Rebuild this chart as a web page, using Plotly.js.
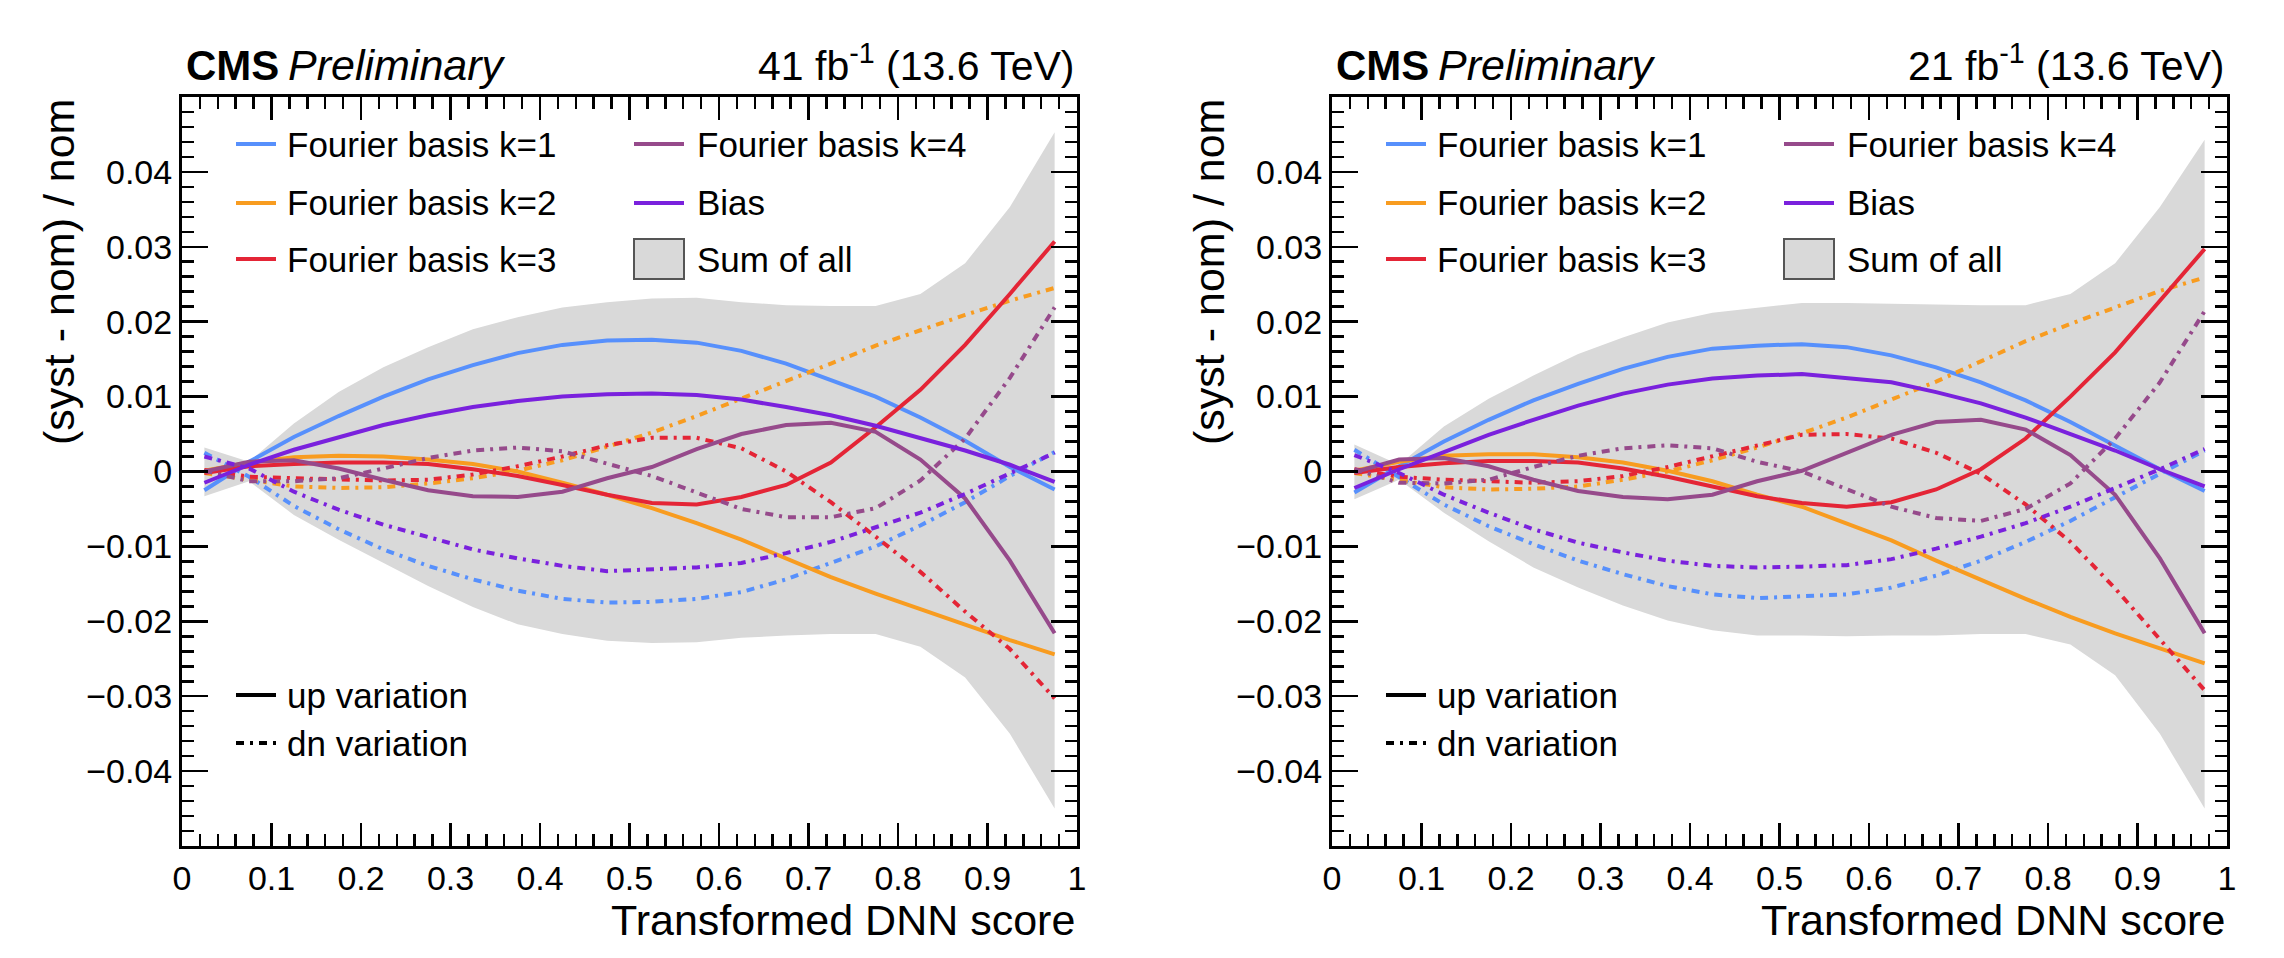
<!DOCTYPE html>
<html>
<head>
<meta charset="utf-8">
<script src="https://cdn.plot.ly/plotly-3.0.1.min.js"></script>
<style>
  html, body { margin: 0; padding: 0; background: #fff; }
  #plot { width: 2284px; height: 958px; }
</style>
</head>
<body>
<div id="plot"></div>
<script>
// bin centres of the transformed DNN score
var centers = [0.025, 0.075, 0.125, 0.175, 0.225, 0.275, 0.325, 0.375, 0.425, 0.475,
               0.525, 0.575, 0.625, 0.675, 0.725, 0.775, 0.825, 0.875, 0.925, 0.975];

// ---- left panel, 41 fb-1 ----
var k1Up_L = [-0.0025, 0.0013, 0.0046, 0.0074, 0.0100, 0.0123, 0.0142, 0.0158, 0.0169, 0.0175,
              0.0176, 0.0172, 0.0161, 0.0144, 0.0122, 0.0100, 0.0072, 0.0041, 0.0006, -0.0024];
var k1Dn_L = [0.0025, -0.0007, -0.0046, -0.0077, -0.0104, -0.0126, -0.0144, -0.0159, -0.0170, -0.0175,
              -0.0174, -0.0170, -0.0161, -0.0144, -0.0122, -0.0100, -0.0072, -0.0041, -0.0006, 0.0026];
var k2Up_L = [0.0001, 0.0012, 0.0019, 0.0021, 0.0020, 0.0016, 0.0010, 0.0000, -0.0015, -0.0031,
              -0.0049, -0.0069, -0.0091, -0.0116, -0.0141, -0.0163, -0.0184, -0.0205, -0.0225, -0.0244];
var k2Dn_L = [-0.0002, -0.0011, -0.0020, -0.0022, -0.0021, -0.0016, -0.0009, 0.0001, 0.0015, 0.0033,
              0.0052, 0.0074, 0.0097, 0.0121, 0.0144, 0.0168, 0.0189, 0.0209, 0.0228, 0.0245];
var k3Up_L = [-0.0002, 0.0007, 0.0010, 0.0012, 0.0012, 0.0010, 0.0003, -0.0006, -0.0018, -0.0031,
              -0.0042, -0.0044, -0.0034, -0.0018, 0.0012, 0.0059, 0.0109, 0.0169, 0.0237, 0.0307];
var k3Dn_L = [0.0002, -0.0007, -0.0009, -0.0011, -0.0012, -0.0011, -0.0004, 0.0007, 0.0020, 0.0035,
              0.0045, 0.0045, 0.0031, 0.0000, -0.0041, -0.0087, -0.0134, -0.0187, -0.0237, -0.0303];
var k4Up_L = [0.0000, 0.0013, 0.0015, 0.0004, -0.0011, -0.0025, -0.0033, -0.0034, -0.0027, -0.0009,
              0.0006, 0.0030, 0.0050, 0.0062, 0.0065, 0.0053, 0.0016, -0.0036, -0.0119, -0.0216];
var k4Dn_L = [0.0001, -0.0013, -0.0013, -0.0009, 0.0004, 0.0018, 0.0028, 0.0032, 0.0027, 0.0010,
              -0.0006, -0.0028, -0.0050, -0.0061, -0.0061, -0.0049, -0.0012, 0.0044, 0.0125, 0.0219];
var biasUp_L = [-0.0015, 0.0009, 0.0029, 0.0046, 0.0062, 0.0075, 0.0086, 0.0094, 0.0100, 0.0103,
                0.0104, 0.0102, 0.0096, 0.0086, 0.0075, 0.0061, 0.0045, 0.0028, 0.0009, -0.0014];
var biasDn_L = [0.0020, 0.0004, -0.0027, -0.0051, -0.0071, -0.0088, -0.0104, -0.0116, -0.0126, -0.0133,
                -0.0131, -0.0128, -0.0122, -0.0109, -0.0094, -0.0075, -0.0055, -0.0030, -0.0003, 0.0025];
var sumUp_L = [0.0032, 0.0013, 0.0064, 0.0106, 0.0139, 0.0166, 0.0190, 0.0206, 0.0219, 0.0226,
               0.0231, 0.0232, 0.0226, 0.0222, 0.0221, 0.0221, 0.0237, 0.0278, 0.0353, 0.0453];
var sumDn_L = [-0.0033, -0.0013, -0.0058, -0.0091, -0.0122, -0.0153, -0.0181, -0.0204, -0.0217, -0.0226,
               -0.0229, -0.0228, -0.0222, -0.0219, -0.0217, -0.0217, -0.0234, -0.0275, -0.0350, -0.0450];

// ---- right panel, 21 fb-1 ----
var k1Up_R = [-0.0028, 0.0007, 0.0040, 0.0069, 0.0095, 0.0117, 0.0137, 0.0153, 0.0164, 0.0168,
              0.0170, 0.0166, 0.0155, 0.0139, 0.0119, 0.0095, 0.0066, 0.0034, 0.0003, -0.0026];
var k1Dn_R = [0.0029, -0.0007, -0.0044, -0.0073, -0.0097, -0.0119, -0.0137, -0.0153, -0.0164, -0.0169,
              -0.0167, -0.0164, -0.0155, -0.0139, -0.0119, -0.0094, -0.0066, -0.0034, -0.0003, 0.0028];
var k2Up_R = [0.0001, 0.0013, 0.0021, 0.0023, 0.0023, 0.0019, 0.0012, 0.0001, -0.0013, -0.0031,
              -0.0047, -0.0069, -0.0092, -0.0119, -0.0145, -0.0170, -0.0194, -0.0216, -0.0236, -0.0256];
var k2Dn_R = [-0.0002, -0.0012, -0.0021, -0.0024, -0.0023, -0.0020, -0.0011, 0.0000, 0.0015, 0.0032,
              0.0051, 0.0072, 0.0096, 0.0120, 0.0147, 0.0174, 0.0197, 0.0219, 0.0241, 0.0259];
var k3Up_R = [-0.0002, 0.0006, 0.0011, 0.0014, 0.0014, 0.0012, 0.0004, -0.0007, -0.0020, -0.0033,
              -0.0042, -0.0047, -0.0041, -0.0024, 0.0003, 0.0044, 0.0100, 0.0159, 0.0228, 0.0297];
var k3Dn_R = [0.0003, -0.0007, -0.0011, -0.0013, -0.0015, -0.0013, -0.0006, 0.0006, 0.0020, 0.0035,
              0.0049, 0.0050, 0.0044, 0.0025, -0.0003, -0.0044, -0.0094, -0.0156, -0.0225, -0.0292];
var k4Up_R = [-0.0001, 0.0016, 0.0018, 0.0007, -0.0011, -0.0026, -0.0034, -0.0037, -0.0031, -0.0013,
              0.0001, 0.0025, 0.0049, 0.0066, 0.0069, 0.0056, 0.0022, -0.0031, -0.0116, -0.0216];
var k4Dn_R = [0.0003, -0.0015, -0.0016, -0.0011, 0.0006, 0.0021, 0.0031, 0.0035, 0.0031, 0.0013,
              0.0000, -0.0024, -0.0047, -0.0062, -0.0066, -0.0050, -0.0016, 0.0044, 0.0119, 0.0214];
var biasUp_R = [-0.0022, 0.0003, 0.0026, 0.0049, 0.0069, 0.0088, 0.0104, 0.0116, 0.0124, 0.0128,
                0.0130, 0.0125, 0.0119, 0.0106, 0.0091, 0.0072, 0.0050, 0.0028, 0.0003, -0.0020];
var biasDn_R = [0.0022, -0.0002, -0.0031, -0.0055, -0.0077, -0.0095, -0.0108, -0.0119, -0.0126, -0.0128,
                -0.0127, -0.0125, -0.0117, -0.0103, -0.0087, -0.0069, -0.0047, -0.0022, 0.0003, 0.0030];
var sumUp_R = [0.0036, 0.0009, 0.0060, 0.0097, 0.0128, 0.0157, 0.0179, 0.0199, 0.0212, 0.0219,
               0.0225, 0.0225, 0.0224, 0.0222, 0.0222, 0.0222, 0.0237, 0.0278, 0.0353, 0.0443];
var sumDn_R = [-0.0037, -0.0011, -0.0055, -0.0093, -0.0128, -0.0155, -0.0179, -0.0199, -0.0212, -0.0219,
               -0.0219, -0.0220, -0.0219, -0.0219, -0.0217, -0.0217, -0.0231, -0.0272, -0.0350, -0.0450];

var lumiLabels = ['41 fb<sup>-1</sup> (13.6 TeV)', '21 fb<sup>-1</sup> (13.6 TeV)'];
var legendNames = ['Fourier basis k=1', 'Fourier basis k=2', 'Fourier basis k=3',
                   'Fourier basis k=4', 'Bias', 'Sum of all'];

var colors = ['#5790fc', '#f89c20', '#e42536', '#964a8b', '#7a21dd'];
var bandColor = '#d9d9d9';
var DASHDOT = '8px,6px,3px,6px';
var FONT = 'Liberation Sans, Arial, Helvetica, sans-serif';

var W = 2284, H = 958;
function px(x) { return x / W; }
function py(y) { return 1 - y / H; }

var panels = [
  { xa: 'x', ya: 'y', off: 0, lumi: lumiLabels[0],
    up: [k1Up_L, k2Up_L, k3Up_L, k4Up_L, biasUp_L],
    dn: [k1Dn_L, k2Dn_L, k3Dn_L, k4Dn_L, biasDn_L],
    sumUp: sumUp_L, sumDn: sumDn_L },
  { xa: 'x2', ya: 'y2', off: 1150, lumi: lumiLabels[1],
    up: [k1Up_R, k2Up_R, k3Up_R, k4Up_R, biasUp_R],
    dn: [k1Dn_R, k2Dn_R, k3Dn_R, k4Dn_R, biasDn_R],
    sumUp: sumUp_R, sumDn: sumDn_R }
];

var data = [];
var shapes = [];
var annotations = [];

panels.forEach(function (p) {
  // sum of all band
  data.push({
    x: centers.concat(centers.slice().reverse()),
    y: p.sumUp.concat(p.sumDn.slice().reverse()),
    xaxis: p.xa, yaxis: p.ya,
    type: 'scatter', mode: 'lines', fill: 'toself',
    fillcolor: bandColor, line: { width: 0, color: bandColor },
    hoverinfo: 'skip', showlegend: false
  });
  for (var i = 0; i < 5; i++) {
    data.push({
      x: centers, y: p.up[i], xaxis: p.xa, yaxis: p.ya,
      type: 'scatter', mode: 'lines',
      line: { color: colors[i], width: 4 },
      hoverinfo: 'skip', showlegend: false
    });
    data.push({
      x: centers, y: p.dn[i], xaxis: p.xa, yaxis: p.ya,
      type: 'scatter', mode: 'lines',
      line: { color: colors[i], width: 4, dash: DASHDOT },
      hoverinfo: 'skip', showlegend: false
    });
  }

  var o = p.off;
  // header
  annotations.push({
    xref: 'paper', yref: 'paper', x: px(184 + o), y: py(91),
    xanchor: 'left', yanchor: 'bottom', showarrow: false,
    text: '<b>CMS</b>', font: { family: FONT, size: 42, color: 'black' }
  });
  annotations.push({
    xref: 'paper', yref: 'paper', x: px(286 + o), y: py(91),
    xanchor: 'left', yanchor: 'bottom', showarrow: false,
    text: '<i>Preliminary</i>', font: { family: FONT, size: 43, color: 'black' }
  });
  annotations.push({
    xref: 'paper', yref: 'paper', x: px(1077 + o), y: py(91),
    xanchor: 'right', yanchor: 'bottom', showarrow: false,
    text: p.lumi, font: { family: FONT, size: 41, color: 'black' }
  });
  // axis titles
  annotations.push({
    xref: 'paper', yref: 'paper', x: px(1077 + o), y: py(920),
    xanchor: 'right', yanchor: 'middle', showarrow: false,
    text: 'Transformed DNN score', font: { family: FONT, size: 43, color: 'black' }
  });
  annotations.push({
    xref: 'paper', yref: 'paper', x: px(59 + o), y: py(97),
    xanchor: 'center', yanchor: 'top', showarrow: false, textangle: -90,
    text: '(syst - nom) / nom', font: { family: FONT, size: 43, color: 'black' }
  });

  // legend, two columns
  var rows = [144, 203, 259];
  for (var j = 0; j < 6; j++) {
    var col = j < 3 ? 0 : 1;
    var ry = rows[j % 3];
    var x0 = col === 0 ? 236 : 634, x1 = col === 0 ? 276 : 684;
    var tx = col === 0 ? 285 : 695;
    if (j < 5) {
      shapes.push({
        type: 'line', xref: 'paper', yref: 'paper',
        x0: px(x0 + o), x1: px(x1 + o), y0: py(ry), y1: py(ry),
        line: { color: colors[j], width: 4 }
      });
    } else {
      shapes.push({
        type: 'rect', xref: 'paper', yref: 'paper',
        x0: px(x0 + o), x1: px(x1 + o), y0: py(ry - 20), y1: py(ry + 20),
        fillcolor: bandColor, line: { color: '#555555', width: 2 }
      });
    }
    annotations.push({
      xref: 'paper', yref: 'paper', x: px(tx + o), y: py(ry),
      xanchor: 'left', yanchor: 'middle', showarrow: false,
      text: legendNames[j], font: { family: FONT, size: 35, color: 'black' }
    });
  }
  // line style legend
  var styleRows = [[695, 'solid', 'up variation'], [743, DASHDOT, 'dn variation']];
  styleRows.forEach(function (s) {
    shapes.push({
      type: 'line', xref: 'paper', yref: 'paper',
      x0: px(236 + o), x1: px(276 + o), y0: py(s[0]), y1: py(s[0]),
      line: { color: 'black', width: 4, dash: s[1] }
    });
    annotations.push({
      xref: 'paper', yref: 'paper', x: px(285 + o), y: py(s[0]),
      xanchor: 'left', yanchor: 'middle', showarrow: false,
      text: s[2], font: { family: FONT, size: 35, color: 'black' }
    });
  });
});

function xAxis(domain, anchor) {
  return {
    domain: domain, anchor: anchor, range: [0, 1],
    tick0: 0, dtick: 0.1, ticks: 'inside', ticklen: 23, tickwidth: 2.5, tickcolor: 'black',
    showline: true, linewidth: 3, linecolor: 'black', mirror: 'ticks',
    showgrid: false, zeroline: false,
    tickfont: { family: FONT, size: 34, color: 'black' },
    minor: { dtick: 0.02, ticks: 'inside', ticklen: 12, tickwidth: 2.5, tickcolor: 'black', showgrid: false }
  };
}
function yAxis(anchor) {
  return {
    domain: [py(846), py(97)], anchor: anchor, range: [-0.04999, 0.04999],
    tick0: 0, dtick: 0.01, ticks: 'inside', ticklen: 26, tickwidth: 2.5, tickcolor: 'black',
    showline: true, linewidth: 3, linecolor: 'black', mirror: 'ticks',
    showgrid: false, zeroline: false,
    tickfont: { family: FONT, size: 34, color: 'black' },
    minor: { dtick: 0.002, ticks: 'inside', ticklen: 12, tickwidth: 2.5, tickcolor: 'black', showgrid: false }
  };
}

var layout = {
  width: W, height: H,
  margin: { l: 0, r: 0, t: 0, b: 0 },
  paper_bgcolor: 'white', plot_bgcolor: 'white',
  font: { family: FONT, color: 'black' },
  showlegend: false,
  xaxis: xAxis([px(182), px(1077)], 'y'),
  yaxis: yAxis('x'),
  xaxis2: xAxis([px(1332), px(2227)], 'y2'),
  yaxis2: yAxis('x2'),
  shapes: shapes,
  annotations: annotations
};

Plotly.newPlot('plot', data, layout, { displayModeBar: false, staticPlot: true });
</script>
</body>
</html>
